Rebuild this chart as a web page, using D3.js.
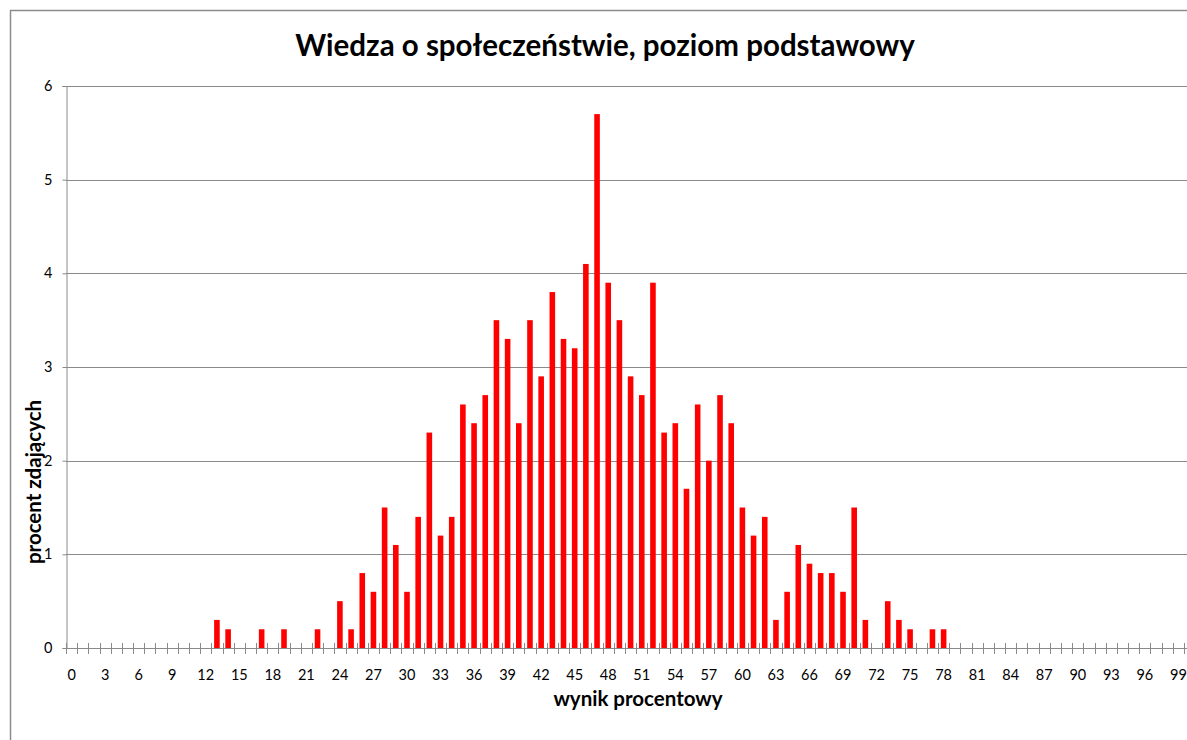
<!DOCTYPE html>
<html><head><meta charset="utf-8">
<script src="https://cdn.jsdelivr.net/npm/d3@7"></script>
<style>body{margin:0;background:#fff}svg{display:block}text{font-family:Lato,"Open Sans",sans-serif}</style>
</head><body>
<script>
(function(){
const categories = d3.range(0, 100);
const values = [
0,0,0,0,0,0,0,0,0,0,
0,0,0,0.3,0.2,0,0,0.2,0,0.2,
0,0,0.2,0,0.5,0.2,0.8,0.6,1.5,1.1,
0.6,1.4,2.3,1.2,1.4,2.6,2.4,2.7,3.5,3.3,
2.4,3.5,2.9,3.8,3.3,3.2,4.1,5.7,3.9,3.5,
2.9,2.7,3.9,2.3,2.4,1.7,2.6,2.0,2.7,2.4,
1.5,1.2,1.4,0.3,0.6,1.1,0.9,0.8,0.8,0.6,
1.5,0.3,0,0.5,0.3,0.2,0,0.2,0.2,0,
0,0,0,0,0,0,0,0,0,0,
0,0,0,0,0,0,0,0,0,0];
const yTicks = [0,1,2,3,4,5,6];
const xTickLabels = categories.filter(d => d % 3 === 0);
const title = "Wiedza o społeczeństwie, poziom podstawowy";
const xTitle = "wynik procentowy";
const yTitle = "procent zdających";

const W = 1187, H = 740;
const svg = d3.select("body").append("svg").attr("width", W).attr("height", H);
svg.append("path").attr("d", `M10.5,${H} V10.5 H${W}`).attr("fill","none").attr("stroke","#8c8c8c").attr("stroke-width",1.5);

const mLeft = 66, mRight = 1184, mTop = 86, mBottom = 648;
const x = d3.scaleBand().domain(categories).range([mLeft, mRight]).paddingInner(0.5).paddingOuter(0.25);
const xb = d3.scaleLinear().domain([0, 100]).range([mLeft, mRight]);
const y = d3.scaleLinear().domain([0, 6]).range([mBottom, mTop]);

svg.append("g").selectAll("line").data(yTicks.filter(d => d > 0)).join("line")
  .attr("x1", mLeft).attr("x2", W).attr("y1", d => Math.round(y(d)) + 0.5).attr("y2", d => Math.round(y(d)) + 0.5)
  .attr("stroke", "#8a8a8a").attr("stroke-width", 1);

svg.append("g").selectAll("rect").data(categories).join("rect")
  .attr("x", d => x(d)).attr("width", x.bandwidth())
  .attr("y", d => y(values[d])).attr("height", d => mBottom - y(values[d]))
  .attr("fill", "#ff0000");

const ya = svg.append("g").attr("transform", `translate(${mLeft + 0.5},0)`)
  .call(d3.axisLeft(y).tickValues(yTicks).tickSize(4).tickPadding(10).tickFormat(d3.format("d")));
ya.select(".domain").attr("stroke", "#8a8a8a");
ya.selectAll(".tick line").attr("stroke", "#8a8a8a");
ya.selectAll("text").attr("font-size", 14.5).attr("fill", "#000").style("font-family", "Lato");

svg.append("line").attr("x1", mLeft).attr("x2", W).attr("y1", mBottom + 0.5).attr("y2", mBottom + 0.5).attr("stroke", "#8a8a8a");
svg.append("g").selectAll("line").data(d3.range(0, 101)).join("line")
  .attr("x1", d => Math.round(xb(d)) + 0.5).attr("x2", d => Math.round(xb(d)) + 0.5)
  .attr("y1", mBottom - 5).attr("y2", mBottom + 6).attr("stroke", "#8a8a8a");
svg.append("g").selectAll("text").data(xTickLabels).join("text")
  .attr("x", d => x(d) + x.bandwidth() / 2).attr("y", 680)
  .attr("text-anchor", "middle").attr("font-size", 14.5).attr("fill", "#000").text(d => d);

svg.append("text").attr("x", 605).attr("y", 56).attr("text-anchor", "middle")
  .attr("font-size", 29.5).attr("font-weight", "bold").text(title);
svg.append("text").attr("x", 638).attr("y", 706).attr("text-anchor", "middle")
  .attr("font-size", 20.5).attr("font-weight", "bold").text(xTitle);
svg.append("text").attr("transform", "translate(41,482) rotate(-90)").attr("text-anchor", "middle")
  .attr("font-size", 20.5).attr("font-weight", "bold").text(yTitle);
})();
</script>
</body></html>
